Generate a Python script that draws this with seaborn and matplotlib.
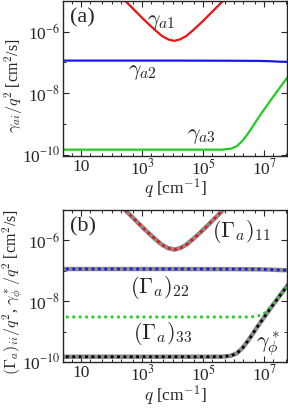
import numpy as np
import matplotlib
matplotlib.use('Agg')
import matplotlib.pyplot as plt
import matplotlib.ticker as mticker
import seaborn as sns

# as log10 values
q_g1 = [1.85, 2.45, 2.75, 3.05, 3.25, 3.45, 3.65, 3.85, 4.05, 4.25, 4.45, 4.65, 4.85, 5.05, 5.35, 5.65, 6.25]
v_g1 = [-4.40, -5.00, -5.30, -5.60, -5.79, -5.97, -6.14, -6.25, -6.30, -6.25, -6.14, -5.97, -5.79, -5.60, -5.30, -5.00, -4.40]

q_g2 = [0.3, 2.0, 4.0, 6.0, 6.8, 7.2, 7.5, 7.8]
v_g2 = [-6.94, -6.94, -6.94, -6.945, -6.95, -6.96, -6.975, -6.98]

q_g3 = [0.3, 2.0, 4.0, 5.6, 5.9, 6.1, 6.3, 6.5, 6.75, 7.0, 7.25, 7.5, 7.8]
v_g3 = [-9.83, -9.83, -9.83, -9.83, -9.80, -9.72, -9.53, -9.26, -8.88, -8.52, -8.17, -7.83, -7.43]

q_G33 = [0.3, 2.0, 4.0, 6.0, 6.5, 6.75, 6.95, 7.1, 7.3, 7.5, 7.8]
v_G33 = [-8.52, -8.52, -8.52, -8.52, -8.52, -8.50, -8.44, -8.32, -8.09, -7.83, -7.43]

xticks = [1e1, 1e3, 1e5, 1e7]
xticklabels = ['10', r'10$^3$', r'10$^5$', r'10$^7$']
yticks = [1e-10, 1e-8, 1e-6]
yticklabels = [r'10$^{\mathdefault{-}10}$', r'10$^{\mathdefault{-}8}$', r'10$^{\mathdefault{-}6}$']

def lin(e):
    return 10.0 ** np.array(e)

sns.set_style('ticks')
plt.rcParams['font.family'] = ['Liberation Serif', 'DejaVu Serif']
plt.rcParams['mathtext.fontset'] = 'stix'

red = '#ee1111'
blue = '#1a1ae6'
green = '#22cc22'
gray = '#8a8a8a'
dots = (0, (1, 1.3))
fs = 16

fig = plt.figure(figsize=(2.88, 4.08), dpi=100)
ax1 = fig.add_axes([0.219, 0.618, 0.778, 0.38])
ax2 = fig.add_axes([0.219, 0.113, 0.778, 0.372])

# panel (a)
sns.lineplot(x=lin(q_g1), y=lin(v_g1), ax=ax1, color=red, lw=1.6, sort=False, estimator=None)
sns.lineplot(x=lin(q_g2), y=lin(v_g2), ax=ax1, color=blue, lw=1.6, sort=False, estimator=None)
sns.lineplot(x=lin(q_g3), y=lin(v_g3), ax=ax1, color=green, lw=1.6, sort=False, estimator=None)

# panel (b)
for qq, vv in [(q_g1, v_g1), (q_g2, v_g2), (q_g3, v_g3)]:
    sns.lineplot(x=lin(qq), y=lin(vv), ax=ax2, color=gray, lw=3.2, sort=False, estimator=None)
sns.lineplot(x=lin(q_g1), y=lin(v_g1), ax=ax2, color=red, lw=2, ls=dots, sort=False, estimator=None)
sns.lineplot(x=lin(q_g2), y=lin(v_g2), ax=ax2, color=blue, lw=2, ls=dots, sort=False, estimator=None)
sns.lineplot(x=lin(q_G33), y=lin(v_G33), ax=ax2, color=green, lw=2, ls=dots, sort=False, estimator=None)
sns.lineplot(x=lin(q_g3), y=lin(v_g3), ax=ax2, color='black', lw=2, ls=dots, sort=False, estimator=None)

for ax, ylo in [(ax1, 0.93e-10), (ax2, 1.25e-10)]:
    ax.set_xscale('log')
    ax.set_yscale('log')
    ax.set_xlim(2.6, 5.6e7)
    ax.set_ylim(ylo, 1.0e-5)
    ax.set_xticks(xticks, xticklabels)
    ax.set_yticks(yticks, yticklabels)
    ax.xaxis.set_minor_locator(mticker.LogLocator(base=10, subs=(1.0, 2.0, 5.0), numticks=30))
    ax.yaxis.set_minor_locator(mticker.FixedLocator([1e-9, 1e-7, 1e-5]))
    ax.xaxis.set_minor_formatter(mticker.NullFormatter())
    ax.yaxis.set_minor_formatter(mticker.NullFormatter())
    ax.tick_params(which='both', direction='in', top=True, right=True, labelsize=12.5, pad=2)
    ax.tick_params(which='major', length=4, width=0.8)
    ax.tick_params(which='minor', length=2.5, width=0.7)
    for s in ax.spines.values():
        s.set_linewidth(1.0)
    ax.set_xlabel(r'$q$ [cm$^{-1}$]', fontsize=12.5, labelpad=-1, math_fontfamily='cm')

ax1.set_ylabel(r'$\gamma_{ai}/q^2$ [cm$^2$/s]', fontsize=11.5, math_fontfamily='cm')
ax2.set_ylabel(r'$(\Gamma_a)_{ii}/q^2$, $\gamma^*_\phi/q^2$ [cm$^2$/s]', fontsize=11.5,
               math_fontfamily='cm')
ax1.yaxis.set_label_coords(-0.17, 0.45)
ax2.yaxis.set_label_coords(-0.17, 0.46)

ax1.text(0.03, 0.955, '(a)', transform=ax1.transAxes, fontsize=fs, va='top')
ax2.text(0.03, 0.955, '(b)', transform=ax2.transAxes, fontsize=fs, va='top')

ax1.text(1.45e3, 1.95e-6, r'$\gamma_{a1}$', fontsize=fs, math_fontfamily='cm', va='center')
ax1.text(3.5e2, 4.8e-8, r'$\gamma_{a2}$', fontsize=fs, math_fontfamily='cm', va='center')
ax1.text(3.0e4, 4.1e-10, r'$\gamma_{a3}$', fontsize=fs, math_fontfamily='cm', va='center')

ax2.text(2.0e5, 1.95e-6, r'$(\Gamma_a)_{11}$', fontsize=fs, math_fontfamily='cm', va='center')
ax2.text(4.1e2, 2.8e-8, r'$(\Gamma_a)_{22}$', fontsize=fs, math_fontfamily='cm', va='center')
ax2.text(5.0e2, 8.7e-10, r'$(\Gamma_a)_{33}$', fontsize=fs, math_fontfamily='cm', va='center')
ax2.text(5.5e6, 3.8e-10, r'$\gamma^*_\phi$', fontsize=fs, math_fontfamily='cm', va='center')

fig.savefig('out.png', dpi=100)
